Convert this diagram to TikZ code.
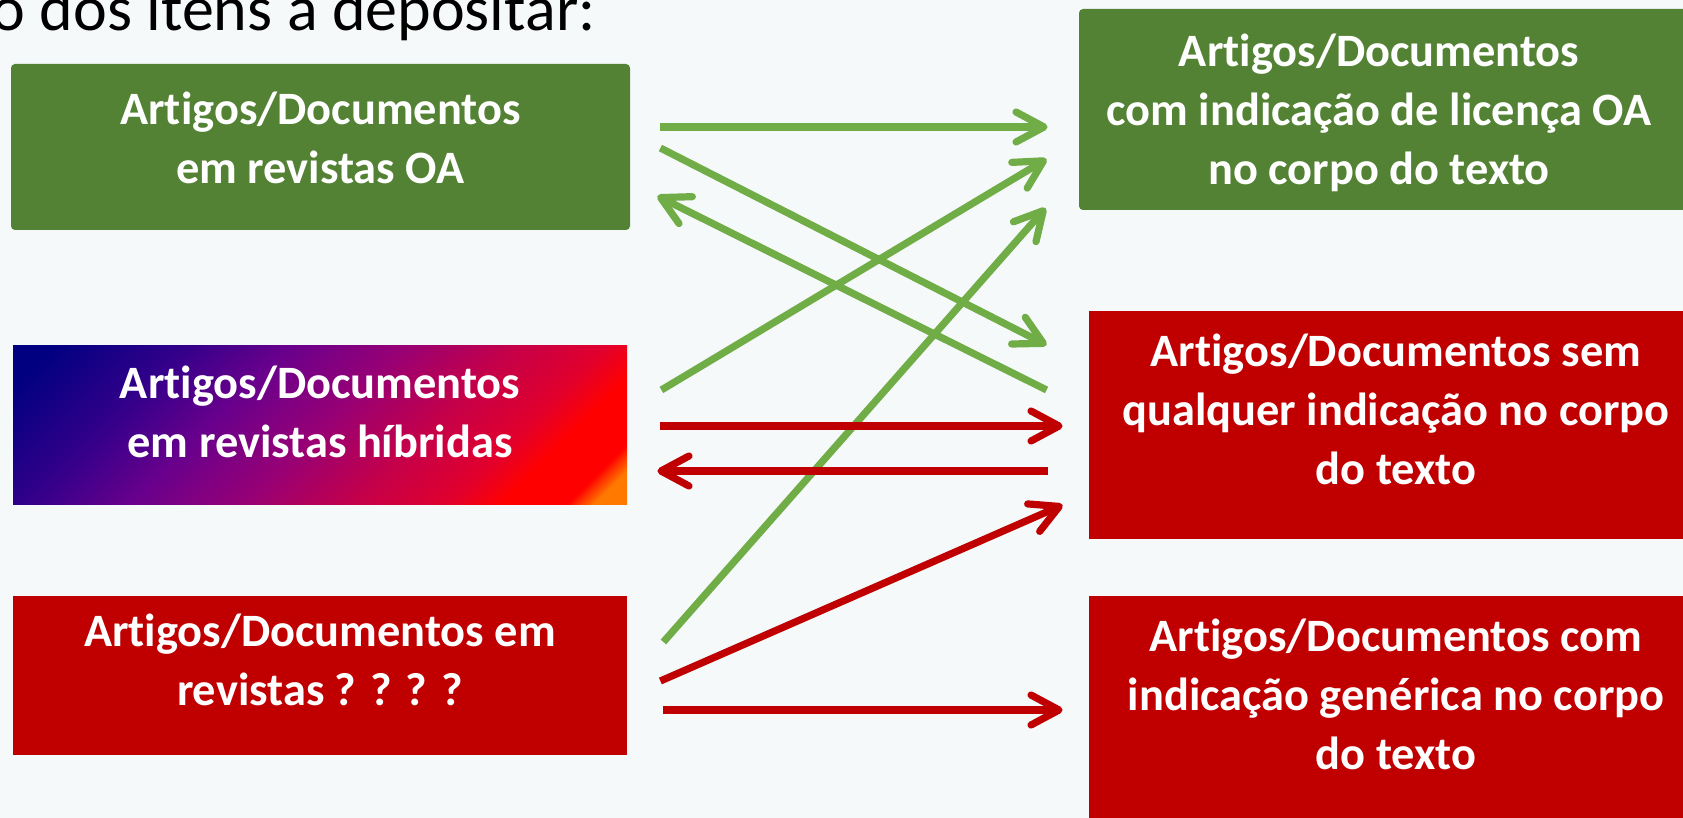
\documentclass[tikz,border=0pt]{standalone}
\usepackage{fontspec}
\setmainfont{Carlito}[Ligatures=NoCommon]
\usepackage{tikz}
\usetikzlibrary{arrows.meta}
\usetikzlibrary{calc}
\usepackage{xcolor}

\definecolor{paper}{RGB}{245,249,250}
\definecolor{oagreen}{RGB}{84,130,53}
\definecolor{nored}{RGB}{192,0,0}
\definecolor{linkgreen}{RGB}{112,173,71}
\definecolor{hnavy}{RGB}{0,0,128}
\definecolor{hdark}{RGB}{50,0,138}
\definecolor{hviolet}{RGB}{105,0,140}
\definecolor{hpurple}{RGB}{150,0,118}
\definecolor{hmagenta}{RGB}{195,0,75}
\definecolor{hcrimson}{RGB}{225,0,45}
\definecolor{horange}{RGB}{255,120,0}
\pgfdeclarehorizontalshading{hybridfade}{100bp}{color(0bp)=(hnavy); color(18bp)=(hnavy);
  color(30bp)=(hdark); color(40bp)=(hviolet); color(50bp)=(hpurple); color(60bp)=(hmagenta);
  color(69bp)=(hcrimson); color(74bp)=(red); color(80bp)=(red); color(82.5bp)=(horange); color(100bp)=(horange)}

\begin{document}
\begin{tikzpicture}[x=0.5pt,y=-0.5pt,->,>={Straight Barb[length=14pt,width=15pt,round]},
  main box/.style={rectangle,inner sep=0,minimum width=#1},
  green box/.style={main box=#1,fill=oagreen,rounded corners=2pt},
  red box/.style={main box=#1,fill=nored},
  box text/.style={text=white,font=\bfseries\fontsize{23.2}{29.5}\selectfont,align=center,inner sep=0,anchor=base},
  green link/.style={draw=linkgreen,line width=3.6pt},
  red link/.style={draw=nored,line width=3.6pt}]

  \useasboundingbox (0,0) rectangle (1683,818);
  \clip (0,0) rectangle (1683,818);
  \fill[paper] (0,0) rectangle (1683,818);

  \node[font=\fontsize{32}{38}\selectfont,anchor=base east,inner sep=0] (title) at (596,31) {o dos itens a depositar:};

  % left column
  \node[green box=619pt/2,minimum height=83pt] (OA) at (320.5,147) {};
  \node[main box=614pt/2,minimum height=79pt,shading=hybridfade,shading angle=-45] (HIB) at (320,425) {};
  \node[red box=614pt/2,minimum height=79.5pt] (UNK) at (320,675.5) {};

  % right column
  \node[green box=611pt/2,minimum height=100.5pt] (LIC) at (1384.5,109.5) {};
  \node[red box=613pt/2,minimum height=114pt] (SEM) at (1395.5,425) {};
  \node[red box=613pt/2,minimum height=122pt] (GEN) at (1395.5,718) {};

  % texts (base = last line)
  \node[box text] (OAt) at (320.5,184) {Artigos/Documentos\\em revistas OA};
  \node[box text] (HIBt) at (320,458) {Artigos/Documentos\\em revistas híbridas};
  \node[box text] (UNKt) at (320,705) {Artigos/Documentos em\\revistas ? ? ? ?};
  \node[box text] (LICt) at (1379,185) {Artigos/Documentos\\com indicação de licença OA\\no corpo do texto};
  \node[box text] (SEMt) at (1396,485) {Artigos/Documentos sem\\qualquer indicação no corpo\\do texto};
  \node[box text] (GENt) at (1396,769) {Artigos/Documentos com\\indicação genérica no corpo\\do texto};

  \path
    ($(OA.east)+(30,-20)$) edge[green link] ($(LIC.west)+(-31,17.5)$)
    ($(OA.east)+(30,1)$) edge[green link] ($(SEM.west)+(-42,-80)$)
    ($(SEM.west)+(-42,-35)$) edge[green link] ($(OA.east)+(27,49)$)
    ($(HIB.east)+(34,-35)$) edge[green link] ($(LIC.west)+(-32,49.5)$)
    ($(UNK.east)+(36,-33.5)$) edge[green link] ($(LIC.west)+(-33,98.5)$)
    ($(HIB.east)+(33,1)$) edge[red link] ($(SEM.west)+(-26,1)$)
    ($(SEM.west)+(-41,46)$) edge[red link] ($(HIB.east)+(30,46)$)
    ($(UNK.east)+(33,5.5)$) edge[red link] ($(SEM.west)+(-26,80)$)
    ($(UNK.east)+(36,34.5)$) edge[red link] ($(GEN.west)+(-26,-8)$)
    ;
\end{tikzpicture}
\end{document}
